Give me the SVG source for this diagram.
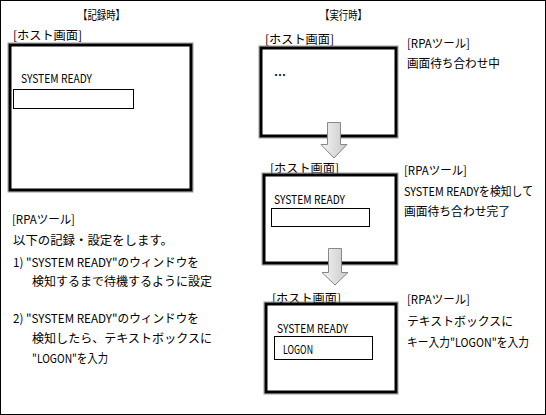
<svg xmlns="http://www.w3.org/2000/svg" width="546" height="415" viewBox="0 0 546 415">
<defs>
<linearGradient id="ag" x1="0" y1="0" x2="1" y2="0">
<stop offset="0" stop-color="#f4f4f4"/>
<stop offset="1" stop-color="#c8c8c8"/>
</linearGradient>
<style>
text{font-family:"Noto Sans CJK JP","Liberation Sans",sans-serif;font-size:12px;fill:#000;dominant-baseline:central}
.host{fill:#fff;stroke:#000;stroke-width:3}
.shadow{fill:none;stroke:#999;stroke-width:1}
.tb{fill:#fff;stroke:#000;stroke-width:1}
.arr{fill:url(#ag);stroke:#888;stroke-width:1}
</style>
</defs>
<rect x="0.5" y="0.5" width="545" height="414" fill="#fff" stroke="#000" stroke-width="1"/>
<text x="78" y="14" textLength="47" lengthAdjust="spacingAndGlyphs">【記録時】</text>
<text x="320" y="14" textLength="47" lengthAdjust="spacingAndGlyphs">【実行時】</text>
<g id="rec-host">
<text x="13" y="34" textLength="69" lengthAdjust="spacingAndGlyphs">[ホスト画面]</text>
<rect class="shadow" x="8" y="43" width="185" height="149"/>
<rect class="host" x="10" y="45" width="181" height="145"/>
<text x="21" y="77" textLength="71" lengthAdjust="spacingAndGlyphs">SYSTEM READY</text>
<rect class="tb" x="13.5" y="89.5" width="120" height="19"/>
</g>
<g id="rec-rpa">
<text x="12" y="218" textLength="63" lengthAdjust="spacingAndGlyphs">[RPAツール]</text>
<text x="13" y="239" textLength="160" lengthAdjust="spacingAndGlyphs">以下の記録・設定をします。</text>
<text x="13" y="261" textLength="186" lengthAdjust="spacingAndGlyphs">1) "SYSTEM READY"のウィンドウを</text>
<text x="32" y="280" textLength="180" lengthAdjust="spacingAndGlyphs">検知するまで待機するように設定</text>
<text x="13" y="317" textLength="186" lengthAdjust="spacingAndGlyphs">2) "SYSTEM READY"のウィンドウを</text>
<text x="32" y="337" textLength="180" lengthAdjust="spacingAndGlyphs">検知したら、テキストボックスに</text>
<text x="32" y="357" textLength="76" lengthAdjust="spacingAndGlyphs">"LOGON"を入力</text>
</g>
<g id="run-host1">
<text x="265" y="38" textLength="69" lengthAdjust="spacingAndGlyphs">[ホスト画面]</text>
<rect class="shadow" x="259" y="46" width="139" height="92"/>
<rect class="host" x="261" y="48" width="135" height="88"/>
<text x="274" y="74" font-weight="bold">…</text>
</g>
<g id="run-rpa1">
<text x="407" y="42" textLength="63" lengthAdjust="spacingAndGlyphs">[RPAツール]</text>
<text x="407" y="62" textLength="93" lengthAdjust="spacingAndGlyphs">画面待ち合わせ中</text>
</g>
<g id="run-host2">
<text x="270" y="167" textLength="69" lengthAdjust="spacingAndGlyphs">[ホスト画面]</text>
<rect class="shadow" x="262" y="173" width="136" height="92"/>
<rect class="host" x="264" y="175" width="132" height="88"/>
<text x="274" y="198" textLength="71" lengthAdjust="spacingAndGlyphs">SYSTEM READY</text>
<rect class="tb" x="271.5" y="208.5" width="98" height="18"/>
</g>
<g id="run-rpa2">
<text x="404" y="169" textLength="63" lengthAdjust="spacingAndGlyphs">[RPAツール]</text>
<text x="404" y="190" textLength="129" lengthAdjust="spacingAndGlyphs">SYSTEM READYを検知して</text>
<text x="404" y="210" textLength="106" lengthAdjust="spacingAndGlyphs">画面待ち合わせ完了</text>
</g>
<g id="run-host3">
<text x="272" y="297" textLength="69" lengthAdjust="spacingAndGlyphs">[ホスト画面]</text>
<rect class="shadow" x="264" y="302" width="134" height="92"/>
<rect class="host" x="266" y="304" width="130" height="88"/>
<text x="277" y="327" textLength="71" lengthAdjust="spacingAndGlyphs">SYSTEM READY</text>
<rect class="tb" x="274.5" y="336.5" width="98" height="23"/>
<text x="283" y="348" textLength="30" lengthAdjust="spacingAndGlyphs">LOGON</text>
</g>
<g id="run-rpa3">
<text x="407" y="298" textLength="63" lengthAdjust="spacingAndGlyphs">[RPAツール]</text>
<text x="407" y="320" textLength="106" lengthAdjust="spacingAndGlyphs">テキストボックスに</text>
<text x="407" y="341" textLength="122" lengthAdjust="spacingAndGlyphs">キー入力"LOGON"を入力</text>
</g>
<g id="connectors">
<path class="arr" d="M327.5,122.5 H340.5 V144.5 H347 L334,158 L321,144.5 H327.5 Z"/>
<path class="arr" d="M328.5,248.5 H341.5 V272.5 H348 L335,285 L322,272.5 H328.5 Z"/>
</g>
</svg>
